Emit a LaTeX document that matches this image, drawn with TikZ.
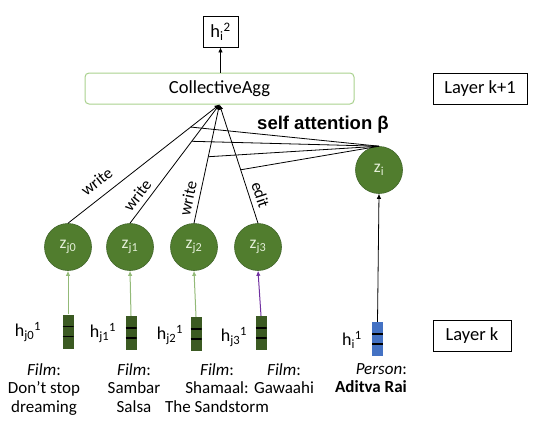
\documentclass[tikz,border=0pt]{standalone}
\usepackage{fontspec}
\setmainfont{Carlito}
\newfontfamily\arialfont{Liberation Sans}
\usetikzlibrary{arrows.meta,calc}
\definecolor{cgreen}{HTML}{517D2E}
\definecolor{cborder}{HTML}{41662A}
\definecolor{ctext}{HTML}{E4EFD8}
\definecolor{vgreen}{HTML}{3B5A22}
\definecolor{vblue}{HTML}{4472C4}
\definecolor{lgreen}{HTML}{93BA78}
\definecolor{aggborder}{HTML}{A9D18E}
\definecolor{purp}{HTML}{7030A0}
\tikzset{
  zc/.style={circle, fill=cgreen, draw=cborder, line width=0.6pt, minimum size=47pt, inner sep=0pt, text=ctext, font=\fontsize{17.5}{19}\selectfont},
  vecbar/.style={rectangle, fill=#1, minimum width=11pt, minimum height=34pt, inner sep=0pt,
    path picture={
      \draw[black, line width=1.3pt] ([yshift=5pt]path picture bounding box.west) -- ([yshift=5pt]path picture bounding box.east);
      \draw[black, line width=1.3pt] ([yshift=-5pt]path picture bounding box.west) -- ([yshift=-5pt]path picture bounding box.east);
    }},
  lbox/.style={draw=black, line width=0.8pt, rectangle, inner sep=0pt, font=\fontsize{18.5}{20}\selectfont},
  hlab/.style={font=\fontsize{18}{20}\selectfont, inner sep=0pt},
  caption/.style={font=\fontsize{17}{18.5}\selectfont, align=center, anchor=north, inner sep=0pt},
  tip/.style={-{Latex[length=5pt,width=4.5pt]}},
  elab/.style={sloped, font=\fontsize{16.5}{18}\selectfont, inner sep=2pt},
  att/.style={black, line width=0.8pt},
}
\begin{document}
\begin{tikzpicture}[x=1pt, y=-1pt]
\useasboundingbox (0,0) rectangle (537,429);

% top
\node[lbox, minimum width=35pt, minimum height=31pt] (h2) at (220.5,31.5) {h\textsubscript{i}\textsuperscript{2}};
\node[draw=aggborder, line width=1pt, rounded corners=4pt, minimum width=269pt, minimum height=31pt, inner sep=0pt, font=\fontsize{18.5}{20}\selectfont] (agg) at (219.5,88.5) {CollectiveAgg};
\draw[tip, line width=0.8pt] (agg.north -| h2.south) -- (h2.south);
\node[lbox, minimum width=94pt, minimum height=31pt] (lk1) at (480,88.5) {Layer k+1};
\node[lbox, minimum width=78pt, minimum height=31pt] (lk) at (472,335.5) {Layer k};

% circles
\node[zc] (zj0) at (68,247) {z\textsubscript{j0}};
\node[zc] (zj1) at (130,247) {z\textsubscript{j1}};
\node[zc] (zj2) at (194,247) {z\textsubscript{j2}};
\node[zc] (zj3) at (258,247) {z\textsubscript{j3}};
\node[zc] (zi) at (379,170) {z\textsubscript{i}};

% relation edges
\draw[tip, line width=0.8pt] (zj0.north) -- node[elab, pos=0.25, above=7pt] {write} (agg.south);
\draw[tip, line width=0.8pt] (zj1.north) -- node[elab, pos=0.18, above=3pt] {write} (agg.south);
\draw[tip, line width=0.8pt] (zj2.north) -- node[elab, pos=0.19, above=3pt] {write} (agg.south);
\draw[tip, line width=0.8pt] (zj3.north) -- node[elab, pos=0.21, above=3pt] {edit} (agg.south);

% self attention lines
\coordinate (a0) at ($(zj0.north)!0.81!(agg.south)$);
\coordinate (a1) at ($(zj1.north)!0.69!(agg.south)$);
\coordinate (a2) at ($(zj2.north)!0.56!(agg.south)$);
\coordinate (a3) at ($(zj3.north)!0.45!(agg.south)$);
\draw[att] (zi.north) -- (a0);
\draw[att] (zi.north) -- (a1);
\draw[att] (zi.north) -- (a2);
\draw[att] (zi.north) -- (a3);
\node[font=\arialfont\bfseries\fontsize{18.5}{20}\selectfont, inner sep=0pt] (sa) at (323,125) {self attention β};

% vectors
\node[vecbar=vgreen] (v0) at (68,331.5) {};
\node[vecbar=vgreen] (v1) at (131,333) {};
\node[vecbar=vgreen] (v2) at (196,334) {};
\node[vecbar=vgreen] (v3) at (261,333) {};
\node[vecbar=vblue] (vi) at (377.5,339) {};

\draw[tip, lgreen, line width=1pt] (v0.north) -- (zj0.south);
\draw[tip, lgreen, line width=1pt] (v1.north) -- (zj1.south);
\draw[tip, lgreen, line width=1pt] (v2.north) -- (zj2.south);
\draw[tip, purp, line width=1pt] (v3.north) -- (zj3.south);
\draw[tip, black, line width=0.8pt] (vi.north) -- (zi.south);

% vector labels
\node[hlab] (l0) at (28,332) {h\textsubscript{j0}\textsuperscript{1}};
\node[hlab] (l1) at (103,333) {h\textsubscript{j1}\textsuperscript{1}};
\node[hlab] (l2) at (170,335) {h\textsubscript{j2}\textsuperscript{1}};
\node[hlab] (l3) at (234,337) {h\textsubscript{j3}\textsuperscript{1}};
\node[hlab] (li) at (352,340) {h\textsubscript{i}\textsuperscript{1}};

% captions
\node[caption] (c0) at (44,363) {\textit{Film}:\\Don’t stop\\dreaming};
\node[caption] (c1) at (134,363) {\textit{Film}:\\Sambar\\Salsa};
\node[caption] (c2) at (217,363) {\textit{Film}:\\Shamaal:\\The Sandstorm};
\node[caption] (c3) at (284,363) {\textit{Film}:\\Gawaahi};
\node[caption, align=right, anchor=north east] (c4) at (407,363) {\textit{Person}:\\\textbf{Aditva Rai}};
\end{tikzpicture}
\end{document}
